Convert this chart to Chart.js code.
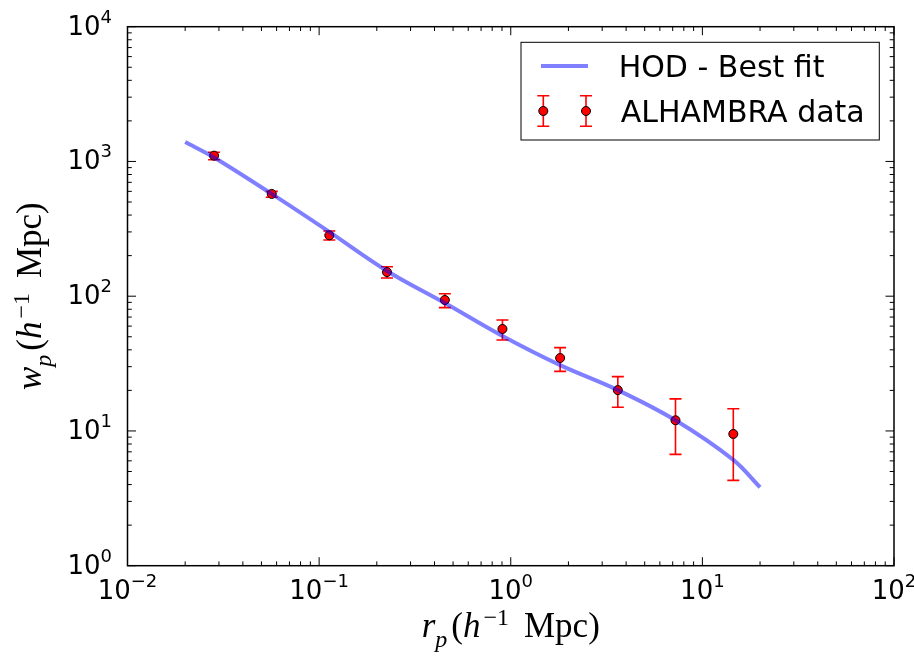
<!DOCTYPE html>
<html>
<head>
<meta charset="utf-8">
<script src="https://cdn.jsdelivr.net/npm/chart.js@4.4.1/dist/chart.umd.min.js"></script>
<style>
body { margin: 0; background: #fff; }
</style>
</head>
<body>
<canvas id="myChart" width="914" height="658"></canvas>
<script>
// ALHAMBRA measurements
var rp = [0.0283, 0.0566, 0.113, 0.226, 0.453, 0.905, 1.81, 3.62, 7.24, 14.5];
var wp = [1104, 574, 283, 151, 93.7, 57.1, 34.8, 20.1, 12.0, 9.5];
var wpLow = [1030, 542, 261, 136.5, 82.2, 47.3, 27.7, 15.0, 6.7, 4.3];
var wpHigh = [1169, 600, 305, 165.5, 104.4, 66.6, 41.5, 25.3, 17.3, 14.6];

// HOD best fit curve
var hodR = [0.02, 0.0283, 0.0566, 0.113, 0.226, 0.453, 0.905, 1.81, 3.62, 7.24, 14.5, 20];
var hodW = [1393, 1070, 574, 300, 154, 89, 50.7, 30.8, 20.1, 12.0, 6.1, 3.82];

// tick labels are 10^exp
var xTickExp = [-2, -1, 0, 1, 2];
var yTickExp = [0, 1, 2, 3, 4];

var MAIN = 'DejaVu Sans';
var SERIF = 'Liberation Serif';

function logTicks(exps) {
  var t = [];
  for (var i = 0; i < exps.length; i++) {
    var base = Math.pow(10, exps[i]);
    t.push({ value: base, major: true });
    if (i < exps.length - 1) {
      for (var k = 2; k <= 9; k++) t.push({ value: k * base, major: false });
    }
  }
  return t;
}

function drawMath(ctx, pieces, x, y, align) {
  var w = 0;
  pieces.forEach(function (p) {
    ctx.font = p.font;
    p.w = ctx.measureText(p.text).width + (p.gap || 0);
    w += p.w;
  });
  var cx = align === 'center' ? x - w / 2 : (align === 'right' ? x - w : x);
  ctx.textAlign = 'left';
  ctx.textBaseline = 'alphabetic';
  pieces.forEach(function (p) {
    ctx.font = p.font;
    ctx.fillText(p.text, cx, y + (p.dy || 0));
    cx += p.w;
  });
}

function powLabel(e) {
  return [
    { text: '10', font: '26px "' + MAIN + '"' },
    { text: e < 0 ? '\u2212' + (-e) : '' + e, font: '18px "' + MAIN + '"', dy: -12 }
  ];
}

function titlePieces(v) {
  return [
    { text: v, font: 'italic 35px "' + SERIF + '"' },
    { text: 'p', font: 'italic 24px "' + SERIF + '"', dy: 10, gap: 4 },
    { text: '(', font: '35px "' + SERIF + '"' },
    { text: 'h', font: 'italic 35px "' + SERIF + '"', gap: 3 },
    { text: '\u22121', font: '24px "' + SERIF + '"', dy: -12, gap: 15 },
    { text: 'Mpc)', font: '35px "' + SERIF + '"' }
  ];
}

var errorBars = {
  id: 'errorBars',
  beforeDatasetsDraw: function (chart) {
    var ctx = chart.ctx, xs = chart.scales.x, ys = chart.scales.y;
    ctx.save();
    ctx.strokeStyle = '#ff0000';
    ctx.lineWidth = 1.6;
    for (var i = 0; i < rp.length; i++) {
      var px = xs.getPixelForValue(rp[i]);
      var y1 = ys.getPixelForValue(wpLow[i]);
      var y2 = ys.getPixelForValue(wpHigh[i]);
      ctx.beginPath();
      ctx.moveTo(px, y1); ctx.lineTo(px, y2);
      ctx.moveTo(px - 6, y1); ctx.lineTo(px + 6, y1);
      ctx.moveTo(px - 6, y2); ctx.lineTo(px + 6, y2);
      ctx.stroke();
    }
    ctx.restore();
  }
};

var axesAndLegend = {
  id: 'axesAndLegend',
  afterDraw: function (chart) {
    var ctx = chart.ctx, a = chart.chartArea;
    var xs = chart.scales.x, ys = chart.scales.y;
    ctx.save();
    ctx.fillStyle = '#000';
    ctx.strokeStyle = '#000';

    // inward ticks on all four sides
    ctx.lineWidth = 1;
    ctx.beginPath();
    xs.ticks.forEach(function (t) {
      var px = xs.getPixelForValue(t.value);
      var len = t.major ? 8.5 : 4.3;
      ctx.moveTo(px, a.bottom); ctx.lineTo(px, a.bottom - len);
      ctx.moveTo(px, a.top); ctx.lineTo(px, a.top + len);
    });
    ys.ticks.forEach(function (t) {
      var py = ys.getPixelForValue(t.value);
      var len = t.major ? 8.5 : 4.3;
      ctx.moveTo(a.left, py); ctx.lineTo(a.left + len, py);
      ctx.moveTo(a.right, py); ctx.lineTo(a.right - len, py);
    });
    ctx.stroke();

    ctx.lineWidth = 1.5;
    ctx.strokeRect(a.left, a.top, a.right - a.left, a.bottom - a.top);

    // tick labels
    xTickExp.forEach(function (e) {
      drawMath(ctx, powLabel(e), xs.getPixelForValue(Math.pow(10, e)), a.bottom + 33.5, 'center');
    });
    yTickExp.forEach(function (e) {
      drawMath(ctx, powLabel(e), a.left - 15.5, ys.getPixelForValue(Math.pow(10, e)) + 8, 'right');
    });

    // axis titles
    drawMath(ctx, titlePieces('r'), (a.left + a.right) / 2, 637, 'center');
    ctx.save();
    ctx.translate(40.7, (a.top + a.bottom) / 2);
    ctx.rotate(-Math.PI / 2);
    drawMath(ctx, titlePieces('w'), 0, 0, 'center');
    ctx.restore();

    // legend
    var lx = a.right - 14.7, ly = a.top + 15.6;
    var bx = lx - 358.3;
    ctx.fillStyle = '#fff';
    ctx.fillRect(bx, ly, 358.3, 97.7);
    ctx.lineWidth = 1;
    ctx.strokeStyle = '#000';
    ctx.strokeRect(bx, ly, 358.3, 97.7);

    var ds = chart.data.datasets;
    ctx.strokeStyle = ds[0].borderColor;
    ctx.lineWidth = ds[0].borderWidth;
    ctx.beginPath();
    ctx.moveTo(bx + 20, ly + 23.7); ctx.lineTo(bx + 67, ly + 23.7);
    ctx.stroke();

    [bx + 22.3, bx + 65].forEach(function (mx) {
      var my = ly + 68.7;
      ctx.strokeStyle = '#ff0000';
      ctx.lineWidth = 1.6;
      ctx.beginPath();
      ctx.moveTo(mx, my - 15.3); ctx.lineTo(mx, my + 15.3);
      ctx.moveTo(mx - 6, my - 15.3); ctx.lineTo(mx + 6, my - 15.3);
      ctx.moveTo(mx - 6, my + 15.3); ctx.lineTo(mx + 6, my + 15.3);
      ctx.stroke();
      ctx.beginPath();
      ctx.arc(mx, my, 4.5, 0, Math.PI * 2);
      ctx.fillStyle = ds[1].backgroundColor;
      ctx.fill();
      ctx.lineWidth = 1;
      ctx.strokeStyle = ds[1].borderColor;
      ctx.stroke();
    });

    ctx.fillStyle = '#000';
    ctx.font = '30px "' + MAIN + '"';
    ctx.textAlign = 'left';
    ctx.textBaseline = 'alphabetic';
    ctx.fillText(ds[0].label, bx + 97.7, ly + 34.7);
    ctx.fillText(ds[1].label, bx + 99.7, ly + 79.4);
    ctx.restore();
  }
};

function pairs(xs, ys) {
  return xs.map(function (x, i) { return { x: x, y: ys[i] }; });
}

var hiddenAxis = function (min, max, exps) {
  return {
    type: 'logarithmic',
    min: min,
    max: max,
    ticks: { display: false },
    grid: { display: false, drawTicks: false },
    border: { display: false },
    afterBuildTicks: function (axis) { axis.ticks = logTicks(exps); }
  };
};

var ctx = document.getElementById('myChart').getContext('2d');
var myChart = new Chart(ctx, {
  type: 'scatter',
  data: {
    datasets: [{
      label: 'HOD - Best fit',
      data: pairs(hodR, hodW),
      showLine: true,
      pointRadius: 0,
      borderColor: 'rgba(0,0,255,0.5)',
      borderWidth: 4,
      tension: 0.35,
      order: 1
    }, {
      label: 'ALHAMBRA data',
      data: pairs(rp, wp),
      pointRadius: 4.5,
      pointHoverRadius: 4.5,
      backgroundColor: '#ff0000',
      borderColor: '#000000',
      borderWidth: 1,
      order: 2
    }]
  },
  options: {
    responsive: false,
    animation: false,
    devicePixelRatio: 1,
    events: [],
    layout: { padding: { left: 127.5, top: 26.7, right: 20, bottom: 92.3 } },
    plugins: { legend: { display: false }, tooltip: { enabled: false } },
    scales: {
      x: hiddenAxis(0.01, 100, xTickExp),
      y: hiddenAxis(1, 10000, yTickExp)
    }
  },
  plugins: [errorBars, axesAndLegend]
});
</script>
</body>
</html>
